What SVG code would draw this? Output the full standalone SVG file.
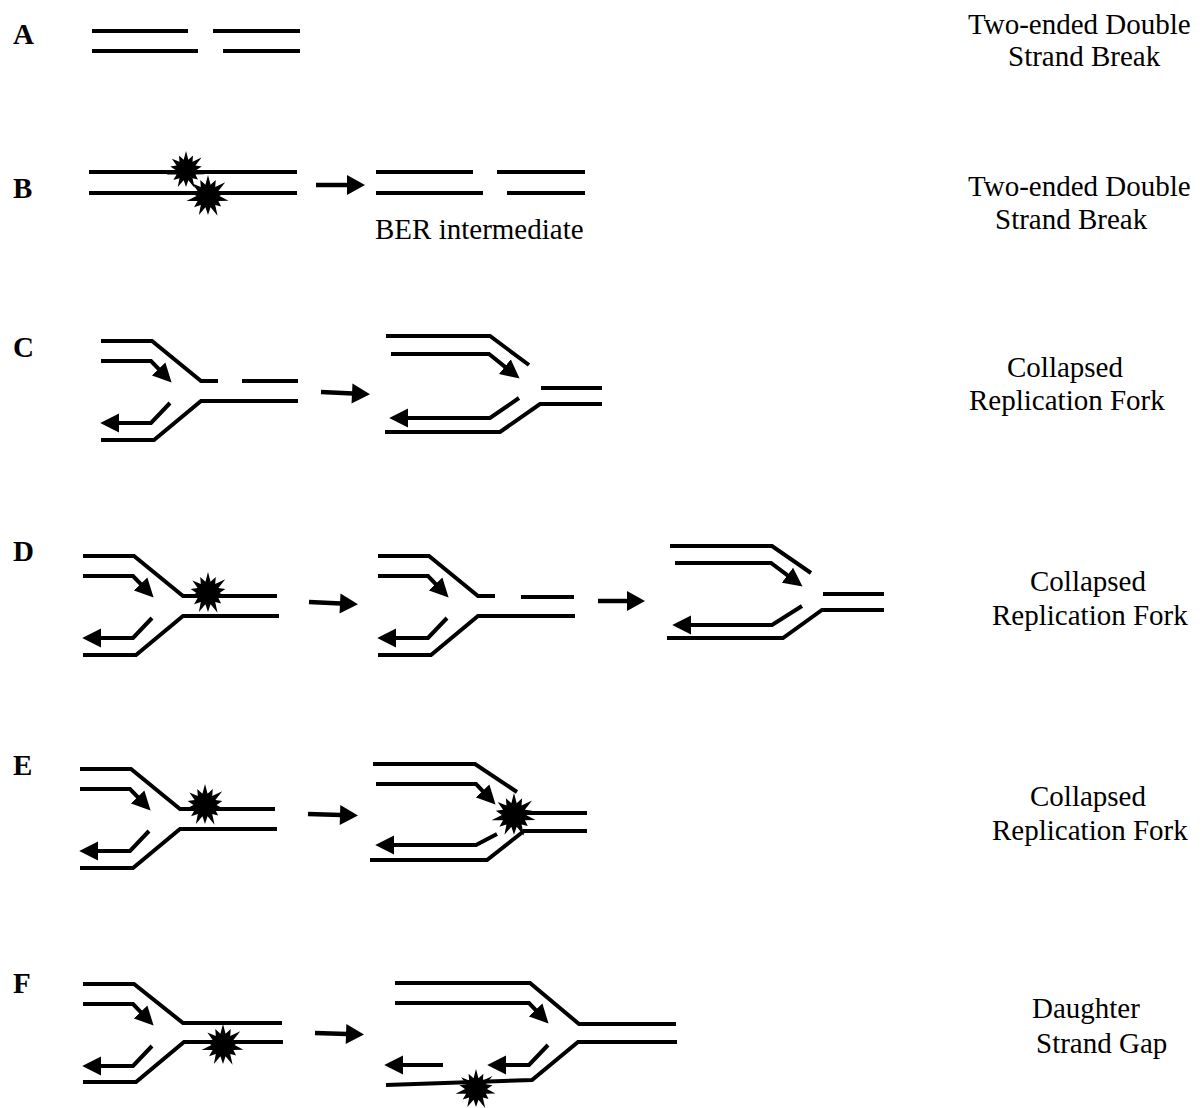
<svg xmlns="http://www.w3.org/2000/svg" width="1204" height="1108" viewBox="0 0 1204 1108">
  <style>
    .s { fill: none; stroke: #000; stroke-width: 4; stroke-linejoin: miter; stroke-linecap: butt; }
    .c { fill: none; stroke: #000; stroke-width: 4.5; }
    .txt { font-family: "Liberation Serif", "Times New Roman", serif; font-size: 29px; fill: #000; }
    .key { font-family: "Liberation Serif", "Times New Roman", serif; font-size: 29px; font-weight: bold; fill: #000; }
  </style>
  <defs>
    <!-- arrowhead at the 3' end of a nascent strand -->
    <marker id="tip" markerUnits="userSpaceOnUse" markerWidth="20" markerHeight="20" viewBox="0 -9 18 18" refX="1" refY="0" orient="auto">
      <path d="M0,-8.5 L17,0 L0,8.5 z" fill="#000"/>
    </marker>
    <!-- arrowhead for the step arrows -->
    <marker id="step" markerUnits="userSpaceOnUse" markerWidth="22" markerHeight="22" viewBox="0 -11 19 22" refX="1" refY="0" orient="auto">
      <path d="M0,-10 L18,0 L0,10 z" fill="#000"/>
    </marker>
    <!-- lesion starburst -->
    <polygon id="burst" fill="#000" points="0,-20 2.45,-10.72 7.38,-15.32 6.86,-8.6 16.42,-13.09 9.91,-4.77 16.57,-3.78 11,0 19.5,4.45 9.91,4.77 12.51,9.98 6.86,8.6 9.11,18.92 2.45,10.72 0,18 -2.45,10.72 -8.68,18.02 -6.86,8.6 -13.29,10.6 -9.91,4.77 -20.47,4.67 -11,0 -16.57,-3.78 -9.91,-4.77 -14.85,-11.85 -6.86,-8.6 -7.38,-15.32 -2.45,-10.72"/>
  </defs>

  <rect width="1204" height="1108" fill="#fff"/>

  <!-- row labels -->
  <g id="keys">
    <text class="key" x="13" y="44">A</text>
    <text class="key" x="13" y="198">B</text>
    <text class="key" x="13" y="357">C</text>
    <text class="key" x="13" y="561">D</text>
    <text class="key" x="13" y="775">E</text>
    <text class="key" x="13" y="993">F</text>
  </g>

  <!-- A: two-ended break -->
  <g id="a-break">
    <path class="s" d="M92,31 H188 M213,31 H300 M92,51 H198 M223,51 H300"/>
  </g>

  <!-- B: clustered lesions, then BER intermediate -->
  <g id="b-lesions">
    <path class="s" d="M89,172 H297 M89,193 H297"/>
    <use href="#burst" transform="translate(186,170) scale(0.95)"/>
    <use href="#burst" transform="translate(208,196) scale(1.05)"/>
  </g>
  <g id="b-ber">
    <path class="s" d="M376,172 H473 M497,172 H585 M376,193 H483 M507,193 H585"/>
    <text class="txt" x="375" y="239">BER intermediate</text>
  </g>

  <!-- C: fork with nick, then collapsed fork -->
  <g id="c-fork">
    <path class="s" d="M101,341 H152 L201,381 H218 M242,381 H298"/>
    <path class="s" d="M101,361 H151 L159.3,369.7" marker-end="url(#tip)"/>
    <path class="s" d="M170,403 L151,423 H118" marker-end="url(#tip)"/>
    <path class="s" d="M101,440 H154 L201,401 H298"/>
  </g>
  <g id="c-collapsed">
    <path class="s" d="M386,336 H490 L529,365"/>
    <path class="s" d="M391,354 H489 L505.7,367.4" marker-end="url(#tip)"/>
    <path class="s" d="M541,388 H602"/>
    <path class="s" d="M602,404 H540 L500,432 H385"/>
    <path class="s" d="M519,398 L490,418 H407" marker-end="url(#tip)"/>
  </g>

  <!-- D: lesion ahead of fork, repair nick, collapse -->
  <g id="d-fork">
    <path class="s" d="M83,556 H134 L183,596 H277"/>
    <path class="s" d="M83,576 H133 L141.3,584.7" marker-end="url(#tip)"/>
    <path class="s" d="M152,618 L133,638 H100" marker-end="url(#tip)"/>
    <path class="s" d="M83,655 H136 L183,616 H279"/>
    <use href="#burst" transform="translate(208,593) scale(1.05)"/>
  </g>
  <g id="d-nicked">
    <path class="s" d="M378,556 H429 L478,596 H495 M521,597 H574"/>
    <path class="s" d="M378,576 H428 L436.3,584.7" marker-end="url(#tip)"/>
    <path class="s" d="M447,618 L428,638 H395" marker-end="url(#tip)"/>
    <path class="s" d="M378,655 H431 L478,616 H575"/>
  </g>
  <g id="d-collapsed">
    <path class="s" d="M670,546 H772 L811,573"/>
    <path class="s" d="M675,563 H771 L788.3,575.9" marker-end="url(#tip)"/>
    <path class="s" d="M823,594 H884"/>
    <path class="s" d="M884,610 H822 L783,638 H667"/>
    <path class="s" d="M802,606 L772,625 H690" marker-end="url(#tip)"/>
  </g>

  <!-- E: fork runs into the lesion -->
  <g id="e-fork">
    <path class="s" d="M80,769 H131 L180,809 H275"/>
    <path class="s" d="M80,789 H130 L138.3,797.7" marker-end="url(#tip)"/>
    <path class="s" d="M149,831 L130,851 H97" marker-end="url(#tip)"/>
    <path class="s" d="M80,868 H133 L180,829 H277"/>
    <use href="#burst" transform="translate(205,805) scale(1.05)"/>
  </g>
  <g id="e-collapsed">
    <path class="s" d="M373,764 H475 L517,792"/>
    <path class="s" d="M376,784 H476 L483.3,791.7" marker-end="url(#tip)"/>
    <path class="s" d="M518,813 H587"/>
    <path class="s" d="M587,831 H524 L487,860 H370"/>
    <path class="s" d="M497,834 L476,845 H393" marker-end="url(#tip)"/>
    <use href="#burst" transform="translate(514,815) scale(1.1)"/>
  </g>

  <!-- F: lesion bypassed, leaving a daughter-strand gap -->
  <g id="f-fork">
    <path class="s" d="M83,984 H134 L183,1023 H282"/>
    <path class="s" d="M83,1004 H133 L141.3,1012.7" marker-end="url(#tip)"/>
    <path class="s" d="M152,1046 L133,1066 H100" marker-end="url(#tip)"/>
    <path class="s" d="M83,1082 H136 L184,1042 H283"/>
    <use href="#burst" transform="translate(223,1045) scale(1.05)"/>
  </g>
  <g id="f-gap">
    <path class="s" d="M395,983 H530 L579,1024 H676"/>
    <path class="s" d="M395,1003 H529 L536.3,1010.7" marker-end="url(#tip)"/>
    <path class="s" d="M677,1042 H578 L532,1080 L386,1085"/>
    <path class="s" d="M548,1045 L529,1065 H505" marker-end="url(#tip)"/>
    <path class="s" d="M443,1065 H402" marker-end="url(#tip)"/>
    <use href="#burst" transform="translate(476,1089) scale(1.0)"/>
  </g>

  <!-- step arrows -->
  <g id="connectors">
    <path class="c" d="M316,185 L348,185" marker-end="url(#step)"/>
    <path class="c" d="M321,392 L353,393.5" marker-end="url(#step)"/>
    <path class="c" d="M309,602 L341,603.5" marker-end="url(#step)"/>
    <path class="c" d="M598,601 L628,601" marker-end="url(#step)"/>
    <path class="c" d="M308,814 L341,815" marker-end="url(#step)"/>
    <path class="c" d="M315,1033 L347,1034" marker-end="url(#step)"/>
  </g>

  <!-- outcome labels -->
  <g id="outcomes">
    <text class="txt" x="968" y="34">Two-ended Double</text>
    <text class="txt" x="1008" y="66">Strand Break</text>
    <text class="txt" x="968" y="196">Two-ended Double</text>
    <text class="txt" x="995" y="229">Strand Break</text>
    <text class="txt" x="1007" y="377">Collapsed</text>
    <text class="txt" x="969" y="410">Replication Fork</text>
    <text class="txt" x="1030" y="591">Collapsed</text>
    <text class="txt" x="992" y="625">Replication Fork</text>
    <text class="txt" x="1030" y="806">Collapsed</text>
    <text class="txt" x="992" y="840">Replication Fork</text>
    <text class="txt" x="1032" y="1018">Daughter</text>
    <text class="txt" x="1036" y="1053">Strand Gap</text>
  </g>
</svg>
